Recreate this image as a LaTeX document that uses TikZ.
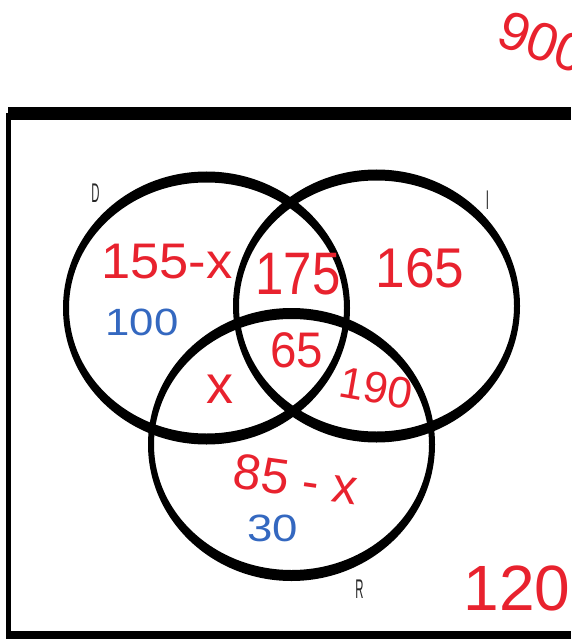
\documentclass[tikz,border=0pt]{standalone}
\usepackage{fontspec}
\setmainfont{Liberation Sans}
\usepackage{tikz}
\usetikzlibrary{positioning}
\definecolor{InkRed}{RGB}{232,34,46}
\definecolor{InkBlue}{RGB}{52,104,192}
\tikzset{
  frameline/.style={line width=#1, line cap=butt},
  setring/.style={fill=black, even odd rule},
  setname/.style={font=\fontsize{27}{27}\selectfont, xscale=0.42, text=black!85, inner sep=0pt},
  redink/.style={text=InkRed, inner sep=0pt},
  blueink/.style={text=InkBlue, inner sep=0pt}
}
\newcommand{\ringat}[1]{%
  (#1) ellipse [x radius=143.5, y radius=136.5]
  (#1) ellipse [x radius=137.5, y radius=125.5]}

\begin{document}
\begin{tikzpicture}[x=1pt, y=-1pt]
  \useasboundingbox (0,0) rectangle (571,639);
  \clip (0,0) rectangle (571,639);
  % universal set frame
  \coordinate (tl) at (8,113.5);
  \coordinate (tr) at (571,113.5);
  \coordinate (ltop) at (8.5,113);
  \coordinate (lbot) at (8.5,639);
  \coordinate (bl) at (6,635);
  \coordinate (br) at (571,635);
  \draw[frameline=12.5] (tl) -- (tr);
  \draw[frameline=4.5] (ltop) -- (lbot);
  \draw[frameline=8] (bl) -- (br);
  % the three sets
  \coordinate (D) at (206.5,308);
  \coordinate (I) at (376.5,306);
  \coordinate (R) at (291.5,444.5);
  \fill[setring] \ringat{D};
  \fill[setring] \ringat{I};
  \fill[setring] \ringat{R};
  \node[setname] (Dname) at (95.5,193) {D};
  \node[setname] (Iname) at (487.5,200) {I};
  \node[setname] (Rname) at (359.5,589) {R};
  % counts
  \node[redink, font=\fontsize{54}{54}\selectfont, rotate=-20] (total) at (543,42) {900};
  \node[redink, font=\fontsize{50}{50}\selectfont, xscale=1.05] (donly) at (167,262) {155-x};
  \node[blueink, font=\fontsize{38}{38}\selectfont, xscale=1.15] (dbase) at (142,322) {100};
  \node[redink, font=\fontsize{60}{60}\selectfont, xscale=0.85] (di) at (298,274) {175};
  \node[redink, font=\fontsize{56}{56}\selectfont, xscale=0.95] (ionly) at (420,268) {165};
  \node[redink, font=\fontsize{50}{50}\selectfont, xscale=0.95] (dir) at (297,350) {65};
  \node[redink, font=\fontsize{54}{54}\selectfont] (dr) at (220,389) {x};
  \node[redink, font=\fontsize{44}{44}\selectfont, rotate=-10] (ir) at (376,388) {190};
  \node[redink, font=\fontsize{50}{50}\selectfont, rotate=-8] (ronly) at (296,479) {85 - x};
  \node[blueink, font=\fontsize{38}{38}\selectfont, xscale=1.2] (rbase) at (273,528) {30};
  \node[redink, font=\fontsize{64}{64}\selectfont] (none) at (517,588) {120};
\end{tikzpicture}
\end{document}
